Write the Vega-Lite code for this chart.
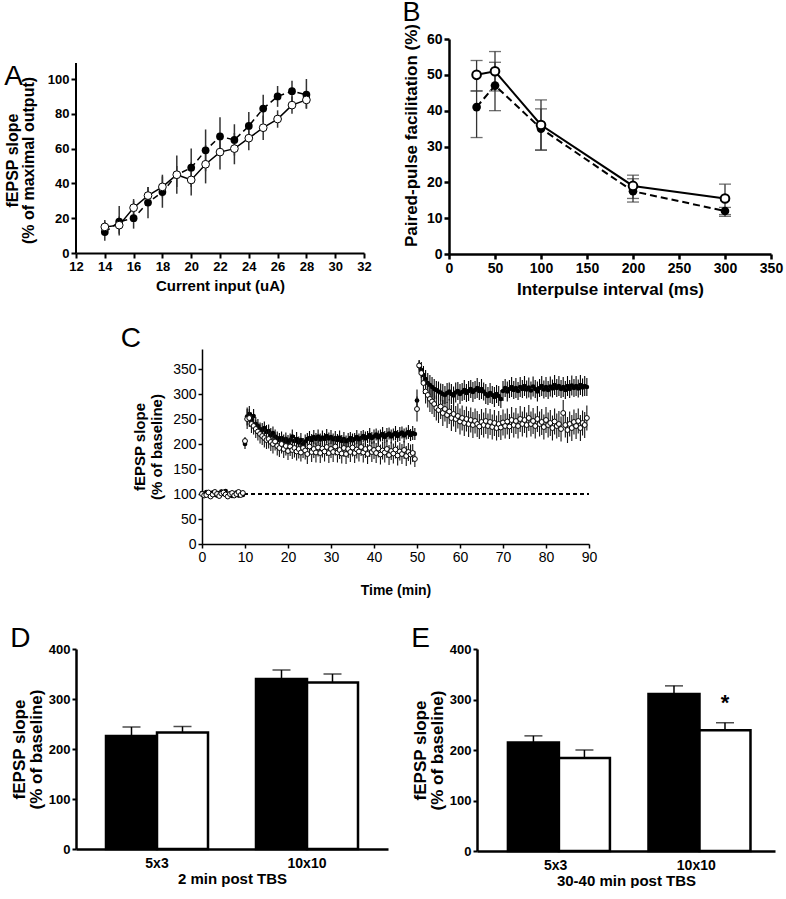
{
  "$schema": "https://vega.github.io/schema/vega-lite/v6.json",
  "background": "white",
  "padding": {"left": 4, "top": -2, "right": 4, "bottom": 0},
  "config": {
    "font": "Liberation Sans",
    "view": {"stroke": null},
    "axis": {"grid": false, "domainColor": "black", "tickColor": "black", "labelColor": "black", "titleColor": "black", "labelFlush": false, "labelOverlap": false},
    "title": {"fontWeight": "normal", "color": "black", "fontSize": 28, "anchor": "start", "frame": "bounds"}
  },
  "datasets": {
    "A": [
      {"g": "f", "x": 14, "y": 12, "lo": 7, "hi": 18},
      {"g": "f", "x": 15, "y": 18, "lo": 10, "hi": 27},
      {"g": "f", "x": 16, "y": 20, "lo": 14, "hi": 30},
      {"g": "f", "x": 17, "y": 29, "lo": 20, "hi": 38},
      {"g": "f", "x": 18, "y": 35, "lo": 26, "hi": 45},
      {"g": "f", "x": 19, "y": 45, "lo": 34, "hi": 56},
      {"g": "f", "x": 20, "y": 49, "lo": 38, "hi": 60},
      {"g": "f", "x": 21, "y": 59, "lo": 47, "hi": 71},
      {"g": "f", "x": 22, "y": 67, "lo": 56, "hi": 78},
      {"g": "f", "x": 23, "y": 65, "lo": 56, "hi": 74},
      {"g": "f", "x": 24, "y": 73, "lo": 65, "hi": 81},
      {"g": "f", "x": 25, "y": 83, "lo": 75, "hi": 91},
      {"g": "f", "x": 26, "y": 90, "lo": 84, "hi": 96},
      {"g": "f", "x": 27, "y": 93, "lo": 87, "hi": 99},
      {"g": "f", "x": 28, "y": 91, "lo": 83, "hi": 100},
      {"g": "o", "x": 14, "y": 15, "lo": 11, "hi": 19},
      {"g": "o", "x": 15, "y": 16, "lo": 11, "hi": 21},
      {"g": "o", "x": 16, "y": 26, "lo": 20, "hi": 31},
      {"g": "o", "x": 17, "y": 33, "lo": 28, "hi": 38},
      {"g": "o", "x": 18, "y": 38, "lo": 32, "hi": 44},
      {"g": "o", "x": 19, "y": 45, "lo": 38, "hi": 50},
      {"g": "o", "x": 20, "y": 42, "lo": 33, "hi": 52},
      {"g": "o", "x": 21, "y": 51, "lo": 40, "hi": 62},
      {"g": "o", "x": 22, "y": 58, "lo": 48, "hi": 68},
      {"g": "o", "x": 23, "y": 60, "lo": 51, "hi": 69},
      {"g": "o", "x": 24, "y": 66, "lo": 59, "hi": 73},
      {"g": "o", "x": 25, "y": 72, "lo": 65, "hi": 79},
      {"g": "o", "x": 26, "y": 77, "lo": 72, "hi": 82},
      {"g": "o", "x": 27, "y": 85, "lo": 80, "hi": 90},
      {"g": "o", "x": 28, "y": 88, "lo": 83, "hi": 93}
    ],
    "B": [
      {"g": "f", "x": 30, "y": 41, "lo": 32.5, "hi": 45.5},
      {"g": "f", "x": 50, "y": 47, "lo": 40, "hi": 53.5},
      {"g": "f", "x": 100, "y": 35, "lo": 29, "hi": 40.5},
      {"g": "f", "x": 200, "y": 17.5, "lo": 14.5, "hi": 21},
      {"g": "f", "x": 300, "y": 12, "lo": 10.5, "hi": 13},
      {"g": "o", "x": 30, "y": 50, "lo": 45.5, "hi": 54},
      {"g": "o", "x": 50, "y": 51, "lo": 45.5, "hi": 56.5},
      {"g": "o", "x": 100, "y": 36, "lo": 29, "hi": 43},
      {"g": "o", "x": 200, "y": 19, "lo": 15.5, "hi": 22},
      {"g": "o", "x": 300, "y": 15.5, "lo": 11, "hi": 19.5}
    ],
    "C": [
      {"t": 0, "f": 102, "fe": 4, "o": 100, "oe": 5},
      {"t": 0.5, "f": 100, "fe": 4, "o": 97, "oe": 5},
      {"t": 1, "f": 104, "fe": 4, "o": 98, "oe": 5},
      {"t": 1.5, "f": 98, "fe": 4, "o": 103, "oe": 5},
      {"t": 2, "f": 101, "fe": 4, "o": 95, "oe": 5},
      {"t": 2.5, "f": 103, "fe": 4, "o": 99, "oe": 5},
      {"t": 3, "f": 99, "fe": 4, "o": 104, "oe": 5},
      {"t": 3.5, "f": 97, "fe": 4, "o": 100, "oe": 5},
      {"t": 4, "f": 102, "fe": 4, "o": 96, "oe": 5},
      {"t": 4.5, "f": 105, "fe": 4, "o": 101, "oe": 5},
      {"t": 5, "f": 100, "fe": 4, "o": 103, "oe": 5},
      {"t": 5.5, "f": 106, "fe": 4, "o": 99, "oe": 5},
      {"t": 6, "f": 98, "fe": 4, "o": 95, "oe": 5},
      {"t": 6.5, "f": 101, "fe": 4, "o": 100, "oe": 5},
      {"t": 7, "f": 96, "fe": 4, "o": 102, "oe": 5},
      {"t": 7.5, "f": 99, "fe": 4, "o": 97, "oe": 5},
      {"t": 8, "f": 103, "fe": 4, "o": 100, "oe": 5},
      {"t": 8.5, "f": 97, "fe": 4, "o": 104, "oe": 5},
      {"t": 9, "f": 101, "fe": 4, "o": 98, "oe": 5},
      {"t": 9.5, "f": 98, "fe": 4, "o": 102, "oe": 5},
      {"t": 10, "f": 200, "fe": 10, "o": 206, "oe": 8},
      {"t": 10.5, "f": 255, "fe": 18, "o": 250, "oe": 20},
      {"t": 11, "f": 260, "fe": 16, "o": 252, "oe": 18},
      {"t": 11.5, "f": 248, "fe": 15, "o": 240, "oe": 18},
      {"t": 12, "f": 256, "fe": 14, "o": 236, "oe": 17},
      {"t": 12.5, "f": 240, "fe": 14, "o": 230, "oe": 18},
      {"t": 13, "f": 236, "fe": 14, "o": 225, "oe": 18},
      {"t": 13.5, "f": 230, "fe": 13, "o": 220, "oe": 19},
      {"t": 14, "f": 228, "fe": 14, "o": 216, "oe": 18},
      {"t": 14.5, "f": 232, "fe": 13, "o": 212, "oe": 19},
      {"t": 15, "f": 224, "fe": 14, "o": 208, "oe": 18},
      {"t": 15.5, "f": 226, "fe": 13, "o": 210, "oe": 19},
      {"t": 16, "f": 218, "fe": 14, "o": 204, "oe": 18},
      {"t": 16.5, "f": 222, "fe": 13, "o": 200, "oe": 19},
      {"t": 17, "f": 215, "fe": 14, "o": 205, "oe": 18},
      {"t": 17.5, "f": 212, "fe": 13, "o": 196, "oe": 19},
      {"t": 18, "f": 208, "fe": 14, "o": 192, "oe": 18},
      {"t": 18.5, "f": 212, "fe": 13, "o": 200, "oe": 19},
      {"t": 19, "f": 205, "fe": 14, "o": 190, "oe": 18},
      {"t": 19.5, "f": 210, "fe": 13, "o": 196, "oe": 19},
      {"t": 20, "f": 204, "fe": 14, "o": 186, "oe": 18},
      {"t": 20.5, "f": 208, "fe": 13, "o": 195, "oe": 19},
      {"t": 21, "f": 215, "fe": 14, "o": 188, "oe": 18},
      {"t": 21.5, "f": 206, "fe": 12, "o": 192, "oe": 19},
      {"t": 22, "f": 210, "fe": 14, "o": 185, "oe": 18},
      {"t": 22.5, "f": 203, "fe": 12, "o": 190, "oe": 19},
      {"t": 23, "f": 208, "fe": 14, "o": 183, "oe": 18},
      {"t": 23.5, "f": 200, "fe": 12, "o": 192, "oe": 20},
      {"t": 24, "f": 205, "fe": 14, "o": 187, "oe": 18},
      {"t": 24.5, "f": 210, "fe": 12, "o": 180, "oe": 20},
      {"t": 25, "f": 212, "fe": 14, "o": 195, "oe": 18},
      {"t": 25.5, "f": 208, "fe": 12, "o": 184, "oe": 20},
      {"t": 26, "f": 214, "fe": 14, "o": 190, "oe": 18},
      {"t": 26.5, "f": 210, "fe": 12, "o": 183, "oe": 20},
      {"t": 27, "f": 215, "fe": 14, "o": 193, "oe": 18},
      {"t": 27.5, "f": 209, "fe": 12, "o": 182, "oe": 20},
      {"t": 28, "f": 213, "fe": 14, "o": 191, "oe": 18},
      {"t": 28.5, "f": 210, "fe": 12, "o": 185, "oe": 20},
      {"t": 29, "f": 216, "fe": 14, "o": 194, "oe": 18},
      {"t": 29.5, "f": 211, "fe": 12, "o": 182, "oe": 20},
      {"t": 30, "f": 214, "fe": 14, "o": 190, "oe": 18},
      {"t": 30.5, "f": 209, "fe": 12, "o": 184, "oe": 20},
      {"t": 31, "f": 212, "fe": 14, "o": 195, "oe": 18},
      {"t": 31.5, "f": 208, "fe": 12, "o": 183, "oe": 20},
      {"t": 32, "f": 213, "fe": 14, "o": 188, "oe": 18},
      {"t": 32.5, "f": 206, "fe": 12, "o": 181, "oe": 20},
      {"t": 33, "f": 210, "fe": 14, "o": 192, "oe": 18},
      {"t": 33.5, "f": 205, "fe": 12, "o": 180, "oe": 20},
      {"t": 34, "f": 208, "fe": 14, "o": 190, "oe": 18},
      {"t": 34.5, "f": 212, "fe": 12, "o": 184, "oe": 20},
      {"t": 35, "f": 207, "fe": 14, "o": 193, "oe": 18},
      {"t": 35.5, "f": 210, "fe": 12, "o": 182, "oe": 20},
      {"t": 36, "f": 214, "fe": 14, "o": 189, "oe": 18},
      {"t": 36.5, "f": 209, "fe": 12, "o": 185, "oe": 20},
      {"t": 37, "f": 212, "fe": 14, "o": 194, "oe": 18},
      {"t": 37.5, "f": 216, "fe": 12, "o": 183, "oe": 20},
      {"t": 38, "f": 211, "fe": 14, "o": 190, "oe": 18},
      {"t": 38.5, "f": 214, "fe": 12, "o": 180, "oe": 20},
      {"t": 39, "f": 218, "fe": 14, "o": 192, "oe": 18},
      {"t": 39.5, "f": 212, "fe": 12, "o": 184, "oe": 20},
      {"t": 40, "f": 215, "fe": 14, "o": 188, "oe": 18},
      {"t": 40.5, "f": 219, "fe": 12, "o": 182, "oe": 20},
      {"t": 41, "f": 213, "fe": 14, "o": 191, "oe": 18},
      {"t": 41.5, "f": 217, "fe": 12, "o": 179, "oe": 20},
      {"t": 42, "f": 220, "fe": 14, "o": 187, "oe": 18},
      {"t": 42.5, "f": 214, "fe": 12, "o": 183, "oe": 20},
      {"t": 43, "f": 218, "fe": 14, "o": 190, "oe": 18},
      {"t": 43.5, "f": 221, "fe": 12, "o": 178, "oe": 20},
      {"t": 44, "f": 215, "fe": 14, "o": 186, "oe": 18},
      {"t": 44.5, "f": 219, "fe": 12, "o": 181, "oe": 20},
      {"t": 45, "f": 222, "fe": 14, "o": 189, "oe": 18},
      {"t": 45.5, "f": 216, "fe": 12, "o": 177, "oe": 20},
      {"t": 46, "f": 220, "fe": 14, "o": 185, "oe": 18},
      {"t": 46.5, "f": 223, "fe": 12, "o": 180, "oe": 20},
      {"t": 47, "f": 217, "fe": 14, "o": 188, "oe": 18},
      {"t": 47.5, "f": 221, "fe": 12, "o": 176, "oe": 20},
      {"t": 48, "f": 224, "fe": 14, "o": 184, "oe": 18},
      {"t": 48.5, "f": 218, "fe": 12, "o": 179, "oe": 20},
      {"t": 49, "f": 222, "fe": 14, "o": 182, "oe": 18},
      {"t": 49.5, "f": 220, "fe": 12, "o": 170, "oe": 16},
      {"t": 50, "f": 287, "fe": 22, "o": 270, "oe": 25},
      {"t": 50.5, "f": 356, "fe": 12, "o": 357, "oe": 10},
      {"t": 51, "f": 348, "fe": 16, "o": 342, "oe": 18},
      {"t": 51.5, "f": 338, "fe": 18, "o": 322, "oe": 22},
      {"t": 52, "f": 330, "fe": 18, "o": 305, "oe": 24},
      {"t": 52.5, "f": 322, "fe": 20, "o": 298, "oe": 25},
      {"t": 53, "f": 318, "fe": 20, "o": 290, "oe": 26},
      {"t": 53.5, "f": 314, "fe": 20, "o": 285, "oe": 25},
      {"t": 54, "f": 310, "fe": 20, "o": 280, "oe": 26},
      {"t": 54.5, "f": 308, "fe": 18, "o": 272, "oe": 25},
      {"t": 55, "f": 305, "fe": 20, "o": 268, "oe": 26},
      {"t": 55.5, "f": 303, "fe": 18, "o": 275, "oe": 25},
      {"t": 56, "f": 300, "fe": 20, "o": 262, "oe": 26},
      {"t": 56.5, "f": 298, "fe": 18, "o": 270, "oe": 25},
      {"t": 57, "f": 302, "fe": 20, "o": 258, "oe": 26},
      {"t": 57.5, "f": 305, "fe": 18, "o": 265, "oe": 25},
      {"t": 58, "f": 300, "fe": 20, "o": 252, "oe": 26},
      {"t": 58.5, "f": 297, "fe": 18, "o": 260, "oe": 25},
      {"t": 59, "f": 303, "fe": 20, "o": 250, "oe": 26},
      {"t": 59.5, "f": 306, "fe": 18, "o": 256, "oe": 25},
      {"t": 60, "f": 300, "fe": 20, "o": 245, "oe": 26},
      {"t": 60.5, "f": 304, "fe": 18, "o": 252, "oe": 25},
      {"t": 61, "f": 308, "fe": 20, "o": 242, "oe": 26},
      {"t": 61.5, "f": 302, "fe": 18, "o": 250, "oe": 25},
      {"t": 62, "f": 306, "fe": 20, "o": 240, "oe": 26},
      {"t": 62.5, "f": 310, "fe": 18, "o": 248, "oe": 25},
      {"t": 63, "f": 304, "fe": 20, "o": 238, "oe": 26},
      {"t": 63.5, "f": 308, "fe": 18, "o": 246, "oe": 25},
      {"t": 64, "f": 312, "fe": 20, "o": 240, "oe": 26},
      {"t": 64.5, "f": 306, "fe": 18, "o": 235, "oe": 25},
      {"t": 65, "f": 310, "fe": 20, "o": 244, "oe": 26},
      {"t": 65.5, "f": 305, "fe": 18, "o": 238, "oe": 25},
      {"t": 66, "f": 300, "fe": 20, "o": 246, "oe": 26},
      {"t": 66.5, "f": 296, "fe": 18, "o": 236, "oe": 25},
      {"t": 67, "f": 302, "fe": 20, "o": 244, "oe": 26},
      {"t": 67.5, "f": 298, "fe": 18, "o": 234, "oe": 25},
      {"t": 68, "f": 294, "fe": 20, "o": 242, "oe": 26},
      {"t": 68.5, "f": 300, "fe": 18, "o": 232, "oe": 25},
      {"t": 69, "f": 296, "fe": 20, "o": 240, "oe": 26},
      {"t": 69.5, "f": 290, "fe": 18, "o": 233, "oe": 25},
      {"t": 70, "f": 306, "fe": 20, "o": 243, "oe": 26},
      {"t": 70.5, "f": 312, "fe": 18, "o": 236, "oe": 25},
      {"t": 71, "f": 305, "fe": 20, "o": 245, "oe": 26},
      {"t": 71.5, "f": 310, "fe": 18, "o": 235, "oe": 25},
      {"t": 72, "f": 314, "fe": 20, "o": 248, "oe": 26},
      {"t": 72.5, "f": 308, "fe": 18, "o": 238, "oe": 25},
      {"t": 73, "f": 312, "fe": 20, "o": 246, "oe": 26},
      {"t": 73.5, "f": 306, "fe": 18, "o": 236, "oe": 25},
      {"t": 74, "f": 314, "fe": 20, "o": 250, "oe": 26},
      {"t": 74.5, "f": 310, "fe": 18, "o": 240, "oe": 25},
      {"t": 75, "f": 316, "fe": 20, "o": 248, "oe": 26},
      {"t": 75.5, "f": 309, "fe": 18, "o": 238, "oe": 25},
      {"t": 76, "f": 313, "fe": 20, "o": 252, "oe": 26},
      {"t": 76.5, "f": 307, "fe": 18, "o": 240, "oe": 25},
      {"t": 77, "f": 315, "fe": 20, "o": 246, "oe": 26},
      {"t": 77.5, "f": 310, "fe": 18, "o": 236, "oe": 25},
      {"t": 78, "f": 305, "fe": 20, "o": 250, "oe": 26},
      {"t": 78.5, "f": 312, "fe": 18, "o": 240, "oe": 25},
      {"t": 79, "f": 316, "fe": 20, "o": 244, "oe": 26},
      {"t": 79.5, "f": 309, "fe": 18, "o": 234, "oe": 25},
      {"t": 80, "f": 314, "fe": 20, "o": 248, "oe": 26},
      {"t": 80.5, "f": 308, "fe": 18, "o": 238, "oe": 25},
      {"t": 81, "f": 315, "fe": 20, "o": 242, "oe": 26},
      {"t": 81.5, "f": 311, "fe": 18, "o": 232, "oe": 25},
      {"t": 82, "f": 318, "fe": 20, "o": 245, "oe": 26},
      {"t": 82.5, "f": 312, "fe": 18, "o": 236, "oe": 25},
      {"t": 83, "f": 316, "fe": 20, "o": 240, "oe": 26},
      {"t": 83.5, "f": 310, "fe": 18, "o": 230, "oe": 25},
      {"t": 84, "f": 314, "fe": 20, "o": 262, "oe": 26},
      {"t": 84.5, "f": 308, "fe": 18, "o": 238, "oe": 25},
      {"t": 85, "f": 316, "fe": 20, "o": 228, "oe": 26},
      {"t": 85.5, "f": 310, "fe": 18, "o": 240, "oe": 25},
      {"t": 86, "f": 317, "fe": 20, "o": 232, "oe": 26},
      {"t": 86.5, "f": 312, "fe": 18, "o": 244, "oe": 25},
      {"t": 87, "f": 316, "fe": 20, "o": 236, "oe": 26},
      {"t": 87.5, "f": 311, "fe": 18, "o": 246, "oe": 25},
      {"t": 88, "f": 318, "fe": 20, "o": 232, "oe": 26},
      {"t": 88.5, "f": 313, "fe": 18, "o": 242, "oe": 25},
      {"t": 89, "f": 316, "fe": 20, "o": 238, "oe": 26},
      {"t": 89.5, "f": 314, "fe": 18, "o": 252, "oe": 25}
    ],
    "TBS": [
      {"t": 10, "l1": "TBS", "l2": "(5 x 3)"},
      {"t": 50, "l1": "TBS", "l2": "(10x10)"}
    ],
    "D": [
      {"p": "5x3", "g": "a", "v": 226, "hi": 244},
      {"p": "5x3", "g": "b", "v": 233, "hi": 245},
      {"p": "10x10", "g": "a", "v": 340, "hi": 358},
      {"p": "10x10", "g": "b", "v": 333, "hi": 350}
    ],
    "E": [
      {"p": "5x3", "g": "a", "v": 215, "hi": 228, "sig": ""},
      {"p": "5x3", "g": "b", "v": 184, "hi": 200, "sig": ""},
      {"p": "10x10", "g": "a", "v": 311, "hi": 327, "sig": ""},
      {"p": "10x10", "g": "b", "v": 239, "hi": 254, "sig": "*"}
    ]
  },
  "spacing": 28,
  "vconcat": [
    {
      "hconcat": [
        {
          "width": 288,
          "height": 214,
          "title": {"text": "A", "dy": 52, "offset": 0},
          "data": {"name": "A"},
          "encoding": {
            "x": {"field": "x", "type": "quantitative", "scale": {"domain": [12, 32], "nice": false},
              "axis": {"title": "Current input (uA)", "values": [12, 14, 16, 18, 20, 22, 24, 26, 28, 30, 32], "labelFontSize": 13, "labelFontWeight": "bold", "titleFontSize": 15, "titleFontWeight": "bold", "domainWidth": 2, "tickWidth": 2, "tickSize": 5, "titlePadding": 5}},
            "y": {"field": "y", "type": "quantitative", "scale": {"domain": [0, 123], "nice": false},
              "axis": {"title": ["fEPSP slope", "(% of maximal output)"], "values": [0, 20, 40, 60, 80, 100], "domain": false, "labelFontSize": 13, "labelFontWeight": "bold", "titleFontSize": 16, "titleFontWeight": "bold", "titleLineHeight": 16, "tickWidth": 2, "tickSize": 5, "titlePadding": 11, "titleY": 121}}
          },
          "layer": [
            {"mark": {"type": "rule", "color": "black", "strokeWidth": 2}, "encoding": {"x": {"datum": 12, "type": "quantitative"}, "y": {"datum": 0, "type": "quantitative"}, "y2": {"datum": 109}}},
            {"mark": {"type": "rule", "color": "#333", "strokeWidth": 1.5}, "encoding": {"y": {"field": "lo", "type": "quantitative"}, "y2": {"field": "hi"}}},
            {"transform": [{"filter": "datum.g == 'f'"}], "mark": {"type": "line", "color": "black", "strokeWidth": 1.5, "strokeDash": [6, 4]}},
            {"transform": [{"filter": "datum.g == 'o'"}], "mark": {"type": "line", "color": "black", "strokeWidth": 1.5}},
            {"transform": [{"filter": "datum.g == 'f'"}], "mark": {"type": "point", "filled": true, "color": "black", "size": 60, "opacity": 1}},
            {"transform": [{"filter": "datum.g == 'o'"}], "mark": {"type": "point", "filled": false, "fill": "white", "stroke": "black", "strokeWidth": 1, "size": 60, "opacity": 1}}
          ]
        },
        {
          "width": 322,
          "height": 215,
          "title": {"text": "B", "offset": -3, "fontSize": 27},
          "data": {"name": "B"},
          "encoding": {
            "x": {"field": "x", "type": "quantitative", "scale": {"domain": [0, 350], "nice": false},
              "axis": {"title": "Interpulse interval (ms)", "values": [0, 50, 100, 150, 200, 250, 300, 350], "labelFontSize": 14, "labelFontWeight": "bold", "titleFontSize": 17, "titleFontWeight": "bold", "domainWidth": 2.5, "tickWidth": 2.5, "tickSize": 5, "titlePadding": 6}},
            "y": {"field": "y", "type": "quantitative", "scale": {"domain": [0, 60], "nice": false},
              "axis": {"title": "Paired-pulse facilitation (%)", "values": [0, 10, 20, 30, 40, 50, 60], "labelFontSize": 14, "labelFontWeight": "bold", "titleFontSize": 17, "titleFontWeight": "bold", "domainWidth": 2.5, "tickWidth": 2.5, "tickSize": 5, "titlePadding": 6, "titleY": 96}}
          },
          "layer": [
            {"mark": {"type": "errorbar", "color": "#333", "thickness": 1.3, "ticks": {"size": 12, "thickness": 1.3}}, "encoding": {"y": {"field": "lo", "type": "quantitative"}, "y2": {"field": "hi"}}},
            {"transform": [{"filter": "datum.g == 'f'"}], "mark": {"type": "line", "color": "black", "strokeWidth": 2, "strokeDash": [7, 4]}},
            {"transform": [{"filter": "datum.g == 'o'"}], "mark": {"type": "line", "color": "black", "strokeWidth": 2}},
            {"transform": [{"filter": "datum.g == 'f'"}], "mark": {"type": "point", "filled": true, "color": "black", "size": 75, "opacity": 1}},
            {"transform": [{"filter": "datum.g == 'o'"}], "mark": {"type": "point", "filled": false, "fill": "white", "stroke": "black", "strokeWidth": 2, "size": 75, "opacity": 1}}
          ]
        }
      ],
      "bounds": "flush",
      "spacing": 85
    },
    {
      "hconcat": [
        {
          "width": 24,
          "height": 10,
          "data": {"values": [{"a": 1}]},
          "mark": {"type": "point", "opacity": 0},
          "encoding": {}
        },
        {
          "width": 387,
          "height": 195,
          "title": {"text": "C", "offset": -4, "dx": -12},
          "data": {"name": "C"},
          "encoding": {
            "x": {"field": "t", "type": "quantitative", "scale": {"domain": [0, 90], "nice": false},
              "axis": {"title": "Time (min)", "values": [0, 10, 20, 30, 40, 50, 60, 70, 80, 90], "labelFontSize": 14, "titleFontSize": 14, "domainWidth": 1.5, "tickWidth": 1.5, "tickSize": 4, "titlePadding": 19}},
            "y": {"field": "f", "type": "quantitative", "scale": {"domain": [0, 390], "nice": false},
              "axis": {"title": ["fEPSP slope", "(% of baseline)"], "values": [0, 50, 100, 150, 200, 250, 300, 350], "labelFontSize": 14, "titleFontSize": 15, "domainWidth": 1.5, "tickWidth": 1.5, "tickSize": 4, "titlePadding": 8, "titleLineHeight": 17}}
          },
          "layer": [
            {
              "mark": {"type": "rule", "color": "black", "strokeWidth": 1.5, "strokeDash": [4, 3]},
              "encoding": {"x": {"datum": 0}, "x2": {"datum": 90}, "y": {"datum": 100}}
            },
            {
              "mark": {"type": "errorbar", "color": "black", "thickness": 1.1},
              "encoding": {"yError": {"field": "fe"}}
            },
            {
              "mark": {"type": "point", "filled": true, "color": "black", "size": 22, "opacity": 1}
            },
            {
              "mark": {"type": "errorbar", "color": "#111", "thickness": 1.1},
              "encoding": {"y": {"field": "o", "type": "quantitative"}, "yError": {"field": "oe"}}
            },
            {
              "mark": {"type": "point", "filled": false, "fill": "white", "stroke": "black", "strokeWidth": 1, "size": 24, "opacity": 1},
              "encoding": {"y": {"field": "o", "type": "quantitative"}}
            },
            {
              "data": {"name": "TBS"},
              "mark": {"type": "rule", "color": "black", "strokeWidth": 1.5, "strokeDash": [1.5, 1.5]},
              "encoding": {"y": {"datum": 60}, "y2": {"datum": 86}}
            },
            {
              "data": {"name": "TBS"},
              "mark": {"type": "point", "shape": "triangle-up", "filled": true, "color": "black", "size": 45, "opacity": 1},
              "encoding": {"y": {"datum": 90}}
            },
            {
              "data": {"name": "TBS"},
              "mark": {"type": "text", "fontSize": 11, "fontWeight": "bold", "color": "black"},
              "encoding": {"y": {"datum": 40}, "text": {"field": "l1"}}
            },
            {
              "data": {"name": "TBS"},
              "mark": {"type": "text", "fontSize": 11, "fontWeight": "bold", "color": "black"},
              "encoding": {"y": {"datum": 10}, "text": {"field": "l2"}}
            }
          ]
        }
      ],
      "spacing": 20
    },
    {
      "hconcat": [
        {
          "width": 312,
          "height": 200,
          "title": {"text": "D", "offset": -10},
          "data": {"name": "D"},
          "encoding": {
            "x": {"field": "p", "type": "nominal", "sort": ["5x3", "10x10"], "scale": {"paddingInner": 0.32, "paddingOuter": 0.2},
              "axis": {"title": "2 min post TBS", "labelAngle": 0, "ticks": false, "labelFontSize": 14, "labelFontWeight": "bold", "titleFontSize": 15, "titleFontWeight": "bold", "domainWidth": 2.5, "labelPadding": 7, "titlePadding": 1}},
            "xOffset": {"field": "g", "type": "nominal", "scale": {"paddingInner": 0, "paddingOuter": 0}},
            "y": {"field": "v", "type": "quantitative", "scale": {"domain": [0, 400], "nice": false},
              "axis": {"title": ["fEPSP slope", "(% of baseline)"], "values": [0, 100, 200, 300, 400], "labelFontSize": 13, "labelFontWeight": "bold", "titleFontSize": 17, "titleFontWeight": "bold", "domainWidth": 2.5, "tickWidth": 2, "tickSize": 4, "titlePadding": 3, "titleLineHeight": 17}}
          },
          "layer": [
            {"mark": {"type": "rule", "color": "black", "strokeWidth": 1.5}, "encoding": {"y2": {"field": "hi"}}},
            {"mark": {"type": "tick", "color": "black", "thickness": 1.5, "size": 18, "orient": "horizontal"}, "encoding": {"y": {"field": "hi", "type": "quantitative"}}},
            {"mark": {"type": "bar", "stroke": "black", "strokeWidth": 2.5},
              "encoding": {"fill": {"field": "g", "type": "nominal", "scale": {"domain": ["a", "b"], "range": ["black", "white"]}, "legend": null}}}
          ]
        },
        {
          "width": 298,
          "height": 202,
          "title": {"text": "E", "offset": -10},
          "data": {"name": "E"},
          "encoding": {
            "x": {"field": "p", "type": "nominal", "sort": ["5x3", "10x10"], "scale": {"paddingInner": 0.32, "paddingOuter": 0.22},
              "axis": {"title": "30-40 min post TBS", "labelAngle": 0, "ticks": false, "labelFontSize": 14, "labelFontWeight": "bold", "titleFontSize": 15, "titleFontWeight": "bold", "domainWidth": 2.5, "labelPadding": 7, "titlePadding": 1}},
            "xOffset": {"field": "g", "type": "nominal", "scale": {"paddingInner": 0, "paddingOuter": 0}},
            "y": {"field": "v", "type": "quantitative", "scale": {"domain": [0, 400], "nice": false},
              "axis": {"title": ["fEPSP slope", "(% of baseline)"], "values": [0, 100, 200, 300, 400], "labelFontSize": 13, "labelFontWeight": "bold", "titleFontSize": 17, "titleFontWeight": "bold", "domainWidth": 2.5, "tickWidth": 2, "tickSize": 4, "titlePadding": 3, "titleLineHeight": 17}}
          },
          "layer": [
            {"mark": {"type": "rule", "color": "black", "strokeWidth": 1.5}, "encoding": {"y2": {"field": "hi"}}},
            {"mark": {"type": "tick", "color": "black", "thickness": 1.5, "size": 18, "orient": "horizontal"}, "encoding": {"y": {"field": "hi", "type": "quantitative"}}},
            {"mark": {"type": "bar", "stroke": "black", "strokeWidth": 2.5},
              "encoding": {"fill": {"field": "g", "type": "nominal", "scale": {"domain": ["a", "b"], "range": ["black", "white"]}, "legend": null}}},
            {"mark": {"type": "text", "fontSize": 22, "fontWeight": "bold", "color": "black", "baseline": "middle", "dy": -20},
              "encoding": {"y": {"field": "hi", "type": "quantitative"}, "text": {"field": "sig"}}}
          ]
        }
      ],
      "spacing": 23
    }
  ]
}
